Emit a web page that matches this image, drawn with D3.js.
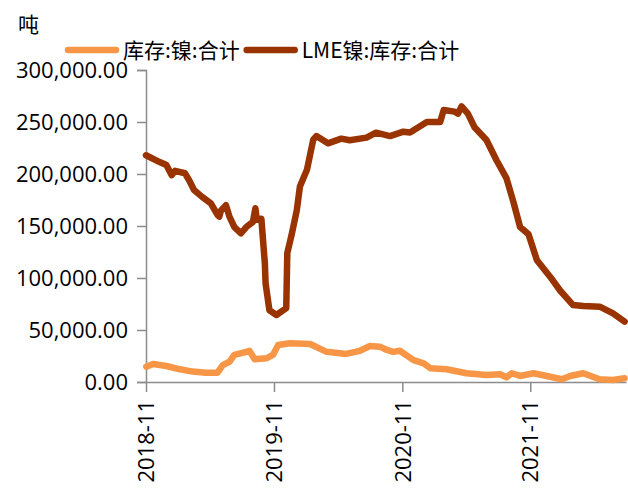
<!DOCTYPE html>
<html><head><meta charset="utf-8">
<script src="https://cdn.jsdelivr.net/npm/d3@7"></script>
<style>
html,body{margin:0;padding:0;background:#fff;}
svg{display:block;}
</style></head>
<body>
<svg id="c" width="628" height="488"></svg>
<script>
const seriesNames = ["库存:镍:合计", "LME镍:库存:合计"];
const unitLabel = "吨";
const xTickLabels = ["2018-11", "2019-11", "2020-11", "2021-11"];
const yTickValues = [0, 50000, 100000, 150000, 200000, 250000, 300000];
const xDomain = ["2018-11-01", "2022-08-01"];

const stockDates = ["2018-11-02","2018-11-21","2018-12-29","2019-02-06","2019-03-14","2019-04-21","2019-05-24","2019-06-08","2019-06-27","2019-07-11","2019-08-14","2019-08-23","2019-09-07","2019-10-10","2019-10-29","2019-11-13","2019-12-16","2020-02-12","2020-03-30","2020-05-25","2020-07-03","2020-08-01","2020-08-29","2020-09-18","2020-10-06","2020-10-25","2020-12-03","2021-01-01","2021-01-20","2021-03-07","2021-05-03","2021-06-29","2021-08-07","2021-08-25","2021-09-09","2021-10-03","2021-11-10","2021-12-18","2022-01-30","2022-02-23","2022-04-01","2022-05-18","2022-06-25","2022-07-28"];
const stockValues = [14700,17300,15400,12200,10000,9000,9000,16300,19500,26000,29000,30000,21800,22800,26000,35600,37200,36500,29000,27000,30000,34600,34000,30800,29000,30000,21000,18000,13200,12200,8400,6700,7400,4500,8400,5800,8400,5800,2600,5800,8400,2600,2000,3600];

const lmeDates = ["2018-11-01","2018-12-10","2018-12-29","2019-01-13","2019-01-23","2019-02-20","2019-03-04","2019-03-18","2019-04-10","2019-05-05","2019-05-24","2019-05-29","2019-06-03","2019-06-17","2019-06-27","2019-07-11","2019-07-30","2019-08-14","2019-09-02","2019-09-09","2019-09-13","2019-09-26","2019-10-06","2019-10-08","2019-10-19","2019-11-08","2019-12-06","2019-12-09","2019-12-21","2020-01-05","2020-01-14","2020-02-03","2020-02-21","2020-03-01","2020-04-03","2020-05-11","2020-06-04","2020-07-22","2020-08-18","2020-09-27","2020-11-04","2020-11-23","2021-01-10","2021-02-17","2021-02-27","2021-03-30","2021-04-09","2021-04-19","2021-05-07","2021-05-26","2021-06-29","2021-07-28","2021-08-25","2021-09-14","2021-10-03","2021-10-27","2021-11-20","2021-12-28","2022-01-25","2022-03-03","2022-04-01","2022-05-18","2022-06-25","2022-07-28"];
const lmeValues = [218000,211500,208600,199000,203000,200700,194000,184600,178000,171800,160600,159000,165000,170000,159000,149000,143000,149000,154000,167000,156000,157000,114000,95000,69000,64400,71000,124000,141000,165000,188000,204000,233000,236500,229500,234000,232500,235000,239700,236500,240700,240000,250000,250000,261500,260000,258000,265000,258000,245000,232700,213000,196000,173000,149000,142000,117000,101000,88000,74000,73000,72400,66000,58000];

const colors = ["#F79646", "#993300"];
const axisColor = "#8c8c8c";
const tickFont = "'Open Sans', sans-serif";
const cjkFont = "'Noto Sans CJK SC', sans-serif";

const svg = d3.select("#c");
const margin = {left: 146, right: 2, top: 70, bottom: 106};
const W = 628, H = 488;
const parse = d3.timeParse("%Y-%m-%d");

const x = d3.scaleTime().domain(xDomain.map(parse)).range([margin.left, W - margin.right]);
const y = d3.scaleLinear().domain([0, 300000]).range([H - margin.bottom, margin.top]);

// Y axis
const yAxis = d3.axisLeft(y).tickValues(yTickValues).tickSize(9).tickPadding(9)
  .tickFormat(d3.format(",.2f"));
const gy = svg.append("g").attr("transform", `translate(${margin.left},0)`).call(yAxis);
gy.select(".domain").attr("stroke", axisColor).attr("stroke-width", 1.5);
gy.selectAll(".tick line").attr("stroke", axisColor).attr("stroke-width", 1.5);
gy.selectAll(".tick text").attr("font-family", tickFont).attr("font-size", 22).attr("fill", "#000");

// X axis
const xTickDates = xTickLabels.map(s => parse(s + "-01"));
const xAxis = d3.axisBottom(x).tickValues(xTickDates).tickSize(10).tickSizeOuter(0)
  .tickFormat((d, i) => xTickLabels[i]);
const gx = svg.append("g").attr("transform", `translate(0,${y(0)})`).call(xAxis);
gx.select(".domain").attr("stroke", axisColor).attr("stroke-width", 1.5);
gx.selectAll(".tick line").attr("stroke", axisColor).attr("stroke-width", 1.5);
gx.selectAll(".tick text")
  .attr("font-family", tickFont).attr("font-size", 22).attr("fill", "#000")
  .attr("text-anchor", "end")
  .attr("transform", "translate(0,18) rotate(-90)")
  .attr("x", 0).attr("y", 0).attr("dy", "0.35em");

// Lines
const line = d3.line().x(d => x(d[0])).y(d => y(d[1]));
const stockData = stockDates.map((d, i) => [parse(d), stockValues[i]]);
const lmeData = lmeDates.map((d, i) => [parse(d), lmeValues[i]]);

[[stockData, colors[0]], [lmeData, colors[1]]].forEach(([data, c]) => {
  svg.append("path").datum(data).attr("d", line)
    .attr("fill", "none").attr("stroke", c).attr("stroke-width", 6.5)
    .attr("stroke-linejoin", "round").attr("stroke-linecap", "round");
});

// Unit label
svg.append("text").attr("x", 18).attr("y", 32).attr("font-family", cjkFont)
  .attr("font-size", 21).attr("fill", "#000").text(unitLabel);

// Legend
const legend = svg.append("g");
let lx = 68;
const ly = 50;
seriesNames.forEach((name, i) => {
  legend.append("line").attr("x1", lx).attr("x2", lx + 48).attr("y1", ly).attr("y2", ly)
    .attr("stroke", colors[i]).attr("stroke-width", 6.5).attr("stroke-linecap", "round");
  const t = legend.append("text").attr("x", lx + 55).attr("y", ly).attr("dy", "0.36em")
    .attr("font-family", cjkFont).attr("font-size", 21).attr("fill", "#000").text(name);
  lx = lx + 55 + t.node().getComputedTextLength() + 7;
});
</script>
</body></html>
